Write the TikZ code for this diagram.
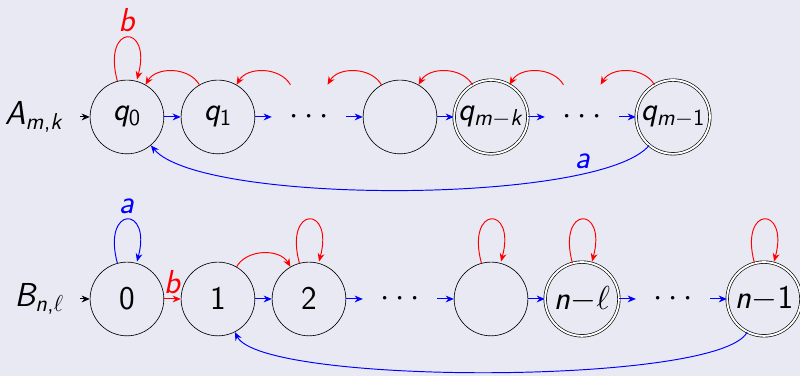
\documentclass[tikz,border=0pt]{standalone}
\usetikzlibrary{automata,arrows.meta,positioning}
\definecolor{bgcol}{RGB}{233,233,243}
% sans serif math, the way slides set it
\DeclareSymbolFont{cmletters}{OML}{cmm}{m}{it}
\SetSymbolFont{letters}{normal}{OT1}{cmss}{m}{sl}
\SetSymbolFont{operators}{normal}{OT1}{cmss}{m}{n}
\DeclareMathSymbol{\ell}{\mathord}{cmletters}{"60}
\DeclareMathSymbol{,}{\mathpunct}{operators}{"2C}

\begin{document}
\begin{tikzpicture}[node distance=2cm, >={Stealth[length=1.8mm,width=1.5mm]},
    font=\huge, semithick,
    every state/.style={draw, thin, minimum size=1.62cm, inner sep=0pt},
    accepting/.style={double, double distance=1.2pt},
    dots/.style={draw=none}]
	\useasboundingbox[fill=bgcol] (-2.79,2.57) rectangle (14.79,-5.69);

	% A_{m,k}
	\node[state] (q0) {$q_0$};
	\node[state, right of=q0] (q1) {$q_1$};
	\node[state, dots, right of=q1] (qd1) {$\cdots$};
	\node[state, right of=qd1] (qe) {};
	\node[state, accepting, right of=qe] (qmk) {$q_{m-k}$};
	\node[state, dots, right of=qmk] (qd2) {$\cdots$};
	\node[state, accepting, right of=qd2] (qm1) {$q_{m-1}$};
	\coordinate (qin) at ([xshift=-0.22cm]q0.west);
	\node[left=0.44cm of q0] (A) {$A_{m,k}$};

	\draw[->] (qin) -- (q0);
	\draw[blue,->] (q0) -- (q1);
	\draw[blue,->] (q1) -- (qd1);
	\draw[blue,->] (qd1) -- (qe);
	\draw[blue,->] (qe) -- (qmk);
	\draw[blue,->] (qmk) -- (qd2);
	\draw[blue,->] (qd2) -- (qm1);
	\draw[red,->] (q0) edge[loop above] node[above] {$b$} (q0);
	\draw[red,->] (q1) to[bend right=60] (q0);
	\draw[red,->] (qd1) to[bend right=60] (q1);
	\draw[red,->] (qe) to[bend right=60] (qd1);
	\draw[red,->] (qmk) to[bend right=60] (qe);
	\draw[red,->] (qd2) to[bend right=60] (qmk);
	\draw[red,->] (qm1) to[bend right=60] (qd2);
	\draw[blue,->] (qm1) to[out=230, in=310, looseness=0.4] node[pos=0.2, above] {$a$} (q0);

	% B_{n,l}
	\node[state] (b0) at (0,-4) {$0$};
	\node[state, right of=b0] (b1) {$1$};
	\node[state, right of=b1] (b2) {$2$};
	\node[state, dots, right of=b2] (bd1) {$\cdots$};
	\node[state, right of=bd1] (be) {};
	\node[state, accepting, right of=be] (bnl) {$n{-}\ell$};
	\node[state, dots, right of=bnl] (bd2) {$\cdots$};
	\node[state, accepting, right of=bd2] (bn1) {$n{-}1$};
	\coordinate (bin) at ([xshift=-0.22cm]b0.west);
	\node[left=0.44cm of b0] (B) {$B_{n,\ell}$};

	\draw[->] (bin) -- (b0);
	\draw[blue,->] (b0) edge[loop above] node[above] {$a$} (b0);
	\draw[red,->] (b0) -- node[above] {$b$} (b1);
	\draw[blue,->] (b1) -- (b2);
	\draw[blue,->] (b2) -- (bd1);
	\draw[blue,->] (bd1) -- (be);
	\draw[blue,->] (be) -- (bnl);
	\draw[blue,->] (bnl) -- (bd2);
	\draw[blue,->] (bd2) -- (bn1);
	\draw[red,->] (b1) to[bend left=60] (b2);
	\draw[red,->] (b2) edge[loop above] (b2);
	\draw[red,->] (be) edge[loop above] (be);
	\draw[red,->] (bnl) edge[loop above] (bnl);
	\draw[red,->] (bn1) edge[loop above] (bn1);
	\draw[blue,->] (bn1) to[out=243, in=297, looseness=0.3] (b1);
\end{tikzpicture}
\end{document}
